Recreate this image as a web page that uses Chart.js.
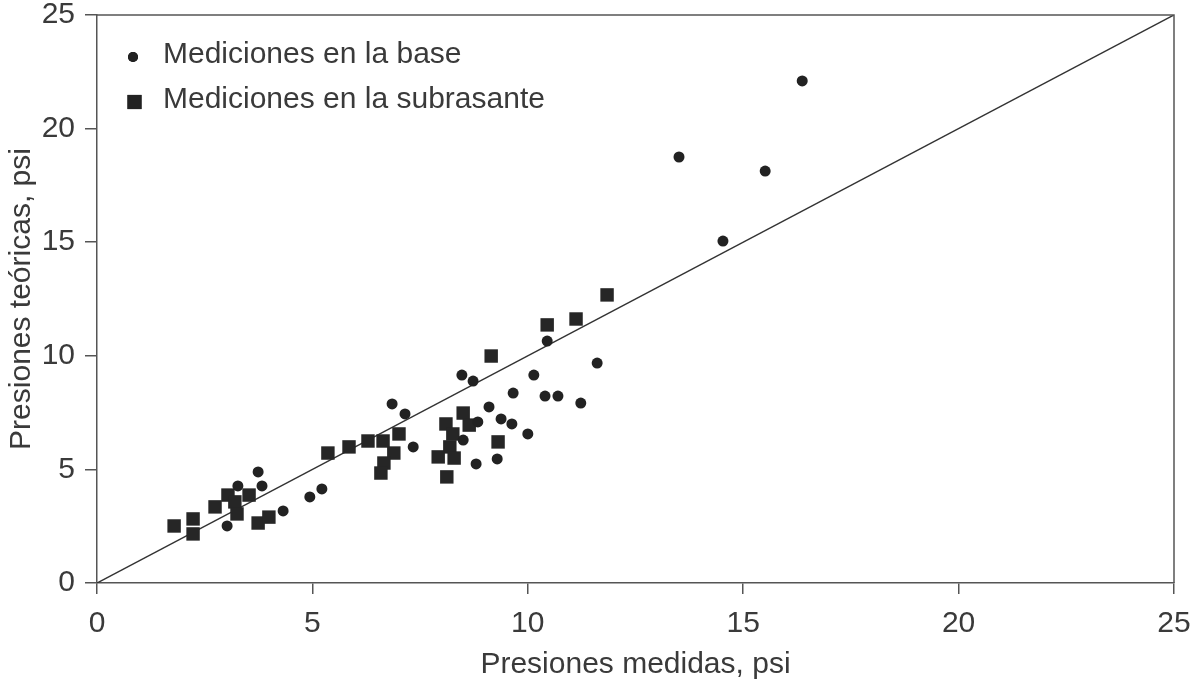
<!DOCTYPE html>
<html>
<head>
<meta charset="utf-8">
<script src="https://cdn.jsdelivr.net/npm/chart.js@4.4.1/dist/chart.umd.min.js"></script>
<style>
html,body{margin:0;padding:0;background:#fff;}
#wrap{width:1198px;height:680px;position:relative;}
</style>
</head>
<body>
<div id="wrap"><canvas id="c" width="1198" height="680"></canvas></div>
<script>
// Mediciones en la base (círculos)
const baseX = [16.37,13.51,15.51,14.53,10.45,11.61,8.47,8.73,10.14,9.66,10.40,10.70,11.23,6.85,7.15,9.10,8.84,9.38,9.63,10.00,8.50,7.34,9.29,8.80,5.22,4.94,3.74,3.27,3.83,3.02,4.32];
const baseY = [22.10,18.75,18.13,15.05,10.65,9.68,9.15,8.89,9.15,8.36,8.23,8.23,7.92,7.88,7.44,7.75,7.09,7.22,7.00,6.56,6.29,5.99,5.46,5.24,4.14,3.79,4.89,4.27,4.27,2.51,3.17];
// Mediciones en la subrasante (cuadrados)
const subX = [1.79,2.23,2.23,2.74,3.04,3.20,3.53,3.25,3.74,3.99,5.36,5.85,6.29,6.64,7.01,6.89,6.66,6.59,8.10,8.50,8.64,8.26,8.19,7.92,8.29,8.12,9.31,9.15,10.45,11.12,11.84];
const subY = [2.51,2.82,2.16,3.35,3.87,3.57,3.87,3.04,2.64,2.90,5.72,5.99,6.25,6.25,6.56,5.72,5.28,4.84,7.00,7.48,6.95,6.56,5.99,5.55,5.50,4.67,6.21,9.99,11.36,11.62,12.68];
// Línea de igualdad
const lineX = [0,25];
const lineY = [0,25];
const tickValues = [0,5,10,15,20,25];
const labels = ['Mediciones en la base','Mediciones en la subrasante'];
const xTitle = 'Presiones medidas, psi';
const yTitle = 'Presiones teóricas, psi';

const toPts = (xs,ys)=>xs.map((x,i)=>({x:x,y:ys[i]}));
const FONT = "'Liberation Sans', Arial, sans-serif";
const FS = 30;
const TXT = '#3a3a3a';

const legendPlugin = {
  id:'inlineLegend',
  afterDatasetsDraw(chart){
    const ctx = chart.ctx;
    const items = [
      {label: chart.data.datasets[0].label, style:'circle', r:5, mx:133, my:57, ty:63},
      {label: chart.data.datasets[1].label, style:'rect', r:10, mx:134.5, my:102, ty:108}
    ];
    ctx.save();
    items.forEach(it=>{
      Chart.helpers.drawPoint(ctx,{pointStyle:it.style,radius:it.r,borderWidth:0},it.mx,it.my);
      ctx.fillStyle = '#222';
      ctx.fill();
      ctx.fillStyle = TXT;
      ctx.font = FS+'px '+FONT;
      ctx.textBaseline = 'alphabetic';
      ctx.textAlign = 'left';
      ctx.fillText(it.label,163,it.ty);
    });
    ctx.restore();
  }
};
const framePlugin = {
  id:'frame',
  afterDraw(chart){
    const a = chart.chartArea, ctx = chart.ctx;
    ctx.save();
    ctx.strokeStyle = '#555';
    ctx.lineWidth = 1.5;
    ctx.beginPath();
    ctx.moveTo(a.left,a.top);ctx.lineTo(a.right,a.top);ctx.lineTo(a.right,a.bottom);
    ctx.stroke();
    ctx.restore();
  }
};

new Chart(document.getElementById('c'),{
  type:'scatter',
  data:{datasets:[
    {label:labels[0],data:toPts(baseX,baseY),pointStyle:'circle',pointRadius:5.5,pointHoverRadius:5.5,backgroundColor:'#222',borderWidth:0},
    {label:labels[1],data:toPts(subX,subY),pointStyle:'rect',pointRadius:9.5,pointHoverRadius:9.5,backgroundColor:'#262626',borderWidth:0},
    {type:'line',label:'y=x',data:toPts(lineX,lineY),borderColor:'#333',borderWidth:1.5,pointRadius:0,fill:false}
  ]},
  options:{
    responsive:false,animation:false,
    layout:{padding:{top:15,right:24,left:0,bottom:0}},
    plugins:{legend:{display:false},tooltip:{enabled:false}},
    scales:{
      x:{type:'linear',min:0,max:25,
        afterBuildTicks(s){s.ticks=tickValues.map(v=>({value:v}));},
        afterFit(s){s.height=97;s.paddingLeft=0;s.paddingRight=0;},
        grid:{display:true,drawOnChartArea:false,drawTicks:true,tickLength:11,color:'#555',lineWidth:1.5},
        border:{display:true,color:'#555',width:1.5},
        ticks:{color:TXT,font:{family:FONT,size:FS},padding:12,maxRotation:0},
        title:{display:true,text:xTitle,color:TXT,font:{family:FONT,size:FS},padding:{top:-3,bottom:-3}}
      },
      y:{type:'linear',min:0,max:25,
        afterBuildTicks(s){s.ticks=tickValues.map(v=>({value:v}));},
        afterFit(s){s.width=97;s.paddingTop=0;s.paddingBottom=0;},
        grid:{display:true,drawOnChartArea:false,drawTicks:true,tickLength:12,color:'#555',lineWidth:1.5},
        border:{display:true,color:'#555',width:1.5},
        ticks:{color:TXT,font:{family:FONT,size:FS},padding:10},
        title:{display:true,text:yTitle,color:TXT,font:{family:FONT,size:FS},padding:{top:4,bottom:4}}
      }
    }
  },
  plugins:[legendPlugin,framePlugin]
});
</script>
</body>
</html>
